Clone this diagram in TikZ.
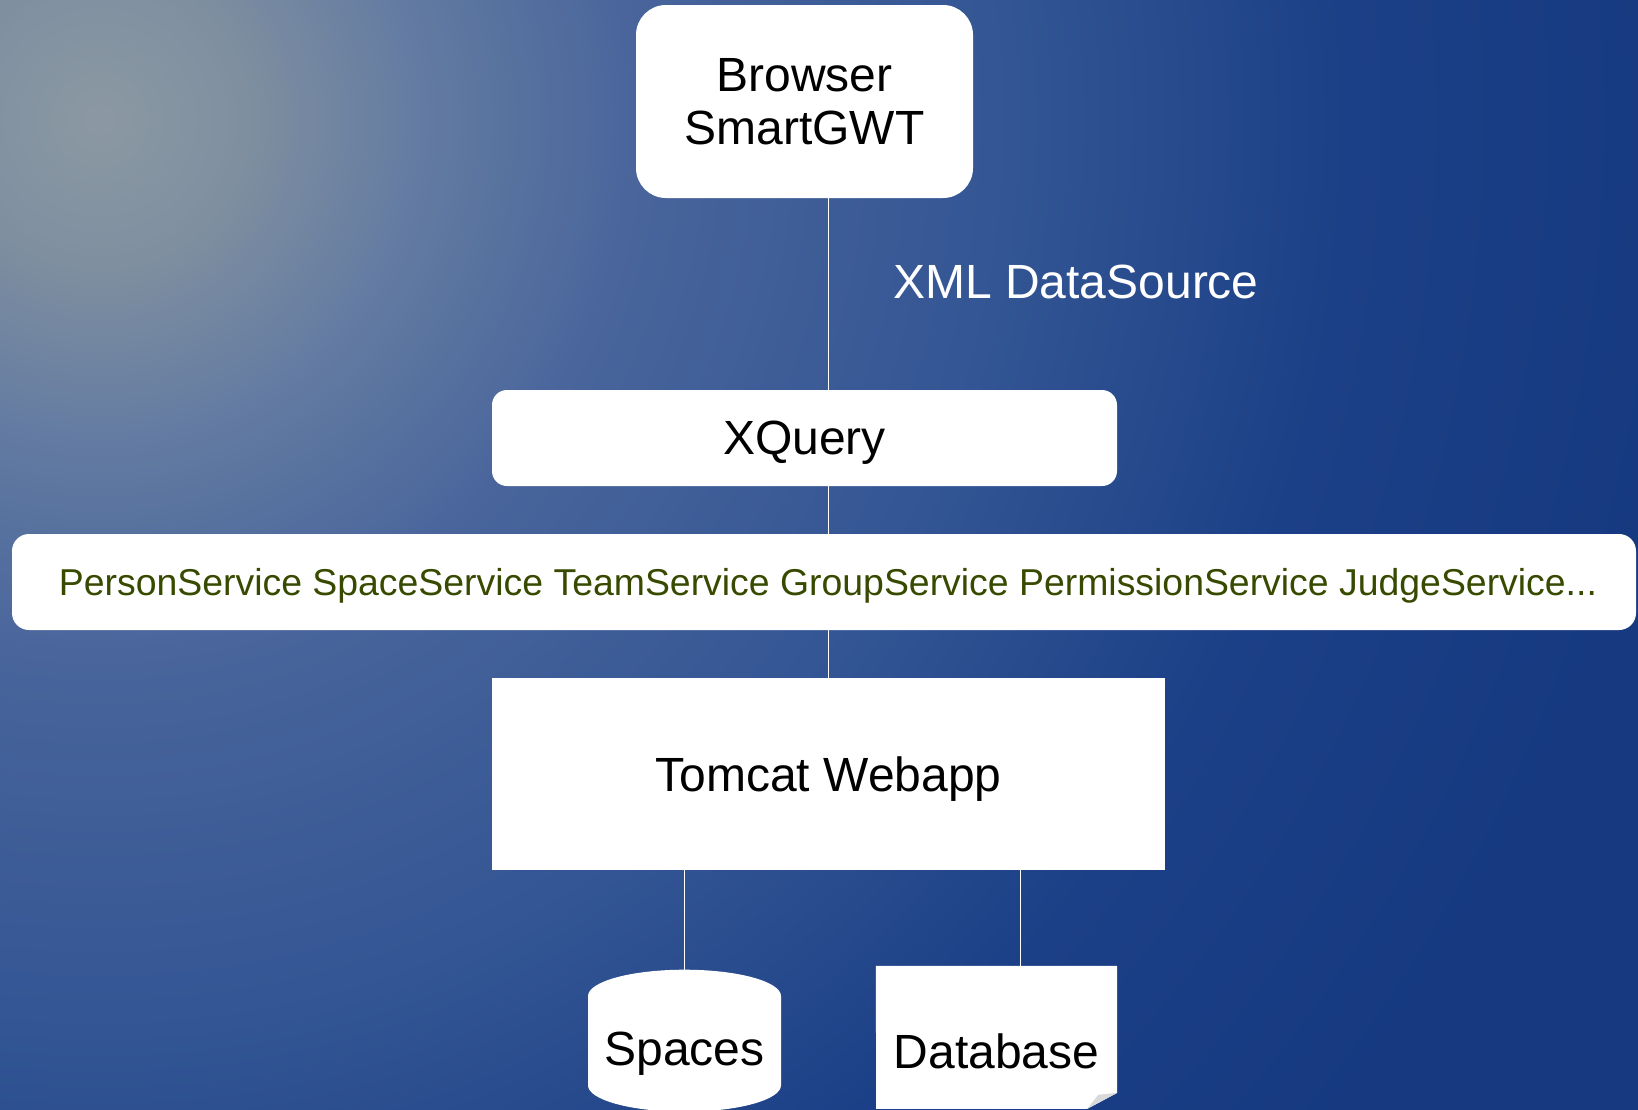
\documentclass[tikz,border=0pt]{standalone}
\usepackage{fontspec}
\setmainfont{Liberation Sans}
\usetikzlibrary{shapes.geometric}

\definecolor{bgA}{RGB}{140,153,163}
\definecolor{bgB}{RGB}{127,143,160}
\definecolor{bgC}{RGB}{100,124,162}
\definecolor{bgD}{RGB}{72,100,155}
\definecolor{bgE}{RGB}{52,86,148}
\definecolor{bgF}{RGB}{28,64,135}
\definecolor{bgG}{RGB}{22,57,128}
\definecolor{svcgreen}{RGB}{56,74,0}
\definecolor{foldgray}{RGB}{218,218,218}

% colour of the glow at a given distance from its centre
\newcommand{\glowseg}[5]{%
  \pgfmathsetmacro{\gp}{(#3-#1)/(#3-#2)*100}%
  \colorlet{glow}{#4!\gp!#5}}
\newcommand{\glowmix}[1]{%
  \pgfmathparse{#1}\let\gr\pgfmathresult
  \ifdim\gr pt<150pt \glowseg{\gr}{0}{150}{bgA}{bgB}%
  \else\ifdim\gr pt<320pt \glowseg{\gr}{150}{320}{bgB}{bgC}%
  \else\ifdim\gr pt<550pt \glowseg{\gr}{320}{550}{bgC}{bgD}%
  \else\ifdim\gr pt<900pt \glowseg{\gr}{550}{900}{bgD}{bgE}%
  \else\ifdim\gr pt<1250pt \glowseg{\gr}{900}{1250}{bgE}{bgF}%
  \else\ifdim\gr pt<1600pt \glowseg{\gr}{1250}{1600}{bgF}{bgG}%
  \else \colorlet{glow}{bgG}\fi\fi\fi\fi\fi\fi}

\pgfdeclarelayer{back}
\pgfdeclarelayer{mid}
\pgfsetlayers{back,mid,main}

\newcommand{\bigfont}{\fontsize{48}{53}\selectfont}
\newcommand{\svcfont}{\fontsize{37.4}{42}\selectfont}

\tikzstyle{roundbox} = [fill=white, draw=none, rectangle, inner sep=0pt,
align=center, text depth=0pt, font=\bigfont]
\tikzstyle{sharpbox} = [fill=white, draw=none, rectangle, inner sep=0pt,
text depth=0pt, font=\bigfont]
\tikzstyle{drum} = [fill=white, draw=none, cylinder, shape border rotate=90,
aspect=0.33, inner sep=0pt, minimum width=193pt, minimum height=142pt, font=\bigfont]
\tikzstyle{link} = [draw=white, line width=1pt]

\begin{document}
\begin{tikzpicture}[x=1pt,y=-1pt]
		\useasboundingbox (0,0) rectangle (1638,1109);
		\clip (0,0) rectangle (1638,1109);
		\begin{pgfonlayer}{back}
		\fill[bgG] (0,0) rectangle (1638,1109);
		\foreach \r in {1880,1872,...,8}{
			\glowmix{\r}
			\fill[glow] (100,120) circle[radius=\r];
		}
		\end{pgfonlayer}

		\node [roundbox, rounded corners=30pt, minimum width=337pt, minimum height=193pt] (browser) at (804.5,101.5) {Browser\\SmartGWT};
		\node [font=\bigfont, text=white] (datasource) at (1076,282) {XML DataSource};
		\node [roundbox, rounded corners=15pt, minimum width=625pt, minimum height=96pt] (xquery) at (804.5,438) {XQuery};
		\node [roundbox, rounded corners=17pt, minimum width=1624pt, minimum height=96pt, font=\svcfont, text=svcgreen] (services) at (824,582)
			{\hspace{8pt}PersonService SpaceService TeamService GroupService PermissionService JudgeService...};
		\node [sharpbox, minimum width=673pt, minimum height=192pt] (tomcat) at (828.5,774) {Tomcat Webapp};
		\node [drum] (spaces) at (684.5,1054) {Spaces};
		\node [sharpbox, fill=none, minimum width=241pt, minimum height=170pt] (database) at (996.5,1051) {Database};

		% note body with the folded corner
		\begin{pgfonlayer}{mid}
		\fill[white] (database.north west) -- (database.north east) -- ++(0,127) -- ++(-30,16) -- ++(-211,0) -- cycle;
		\fill[foldgray] ([yshift=-127pt]database.north east) -- ++(-30,16) -- ++(11,-14) -- cycle;
		\end{pgfonlayer}

		\draw[link] (browser.south -| tomcat.north) -- (xquery.north -| tomcat.north);
		\draw[link] (xquery.south -| tomcat.north) -- (services.north -| tomcat.north);
		\draw[link] (services.south -| tomcat.north) -- (tomcat.north);
		\draw[link] (tomcat.south -| spaces.north) -- (spaces.north);
		\draw[link] ([xshift=23.5pt]database.north) -- ([xshift=23.5pt]database.north |- tomcat.south);
		\end{tikzpicture}
\end{document}
